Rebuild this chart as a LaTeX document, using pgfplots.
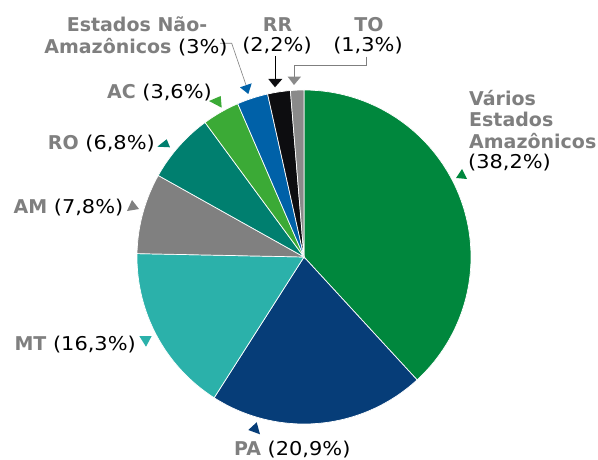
\documentclass[border=0pt]{standalone}
\usepackage{fontspec}
\setmainfont{DejaVu Sans}[FakeStretch=1.1, BoldFeatures={FakeStretch=1.0}]
\usepackage{pgfplots}
\usepackage{pgfplotstable}
\pgfplotsset{compat=1.18}

\definecolor{cVarios}{HTML}{00873D}
\definecolor{cPA}{HTML}{063D78}
\definecolor{cMT}{HTML}{2BB1AA}
\definecolor{cAM}{HTML}{808080}
\definecolor{cRO}{HTML}{007F6F}
\definecolor{cAC}{HTML}{3BAA36}
\definecolor{cENA}{HTML}{0061A8}
\definecolor{cRR}{HTML}{0D0D10}
\definecolor{cTO}{HTML}{8A8A8A}
\definecolor{lg}{HTML}{7F7F7F}

% share of each group, clockwise from the top
\pgfplotstableread{
pct  col
38.2 cVarios
20.9 cPA
16.3 cMT
7.8  cAM
6.8  cRO
3.6  cAC
3.0  cENA
2.2  cRR
1.3  cTO
}\piedata

\newcommand{\nm}[1]{\textcolor{lg}{\textbf{#1}}}

\begin{document}
\begin{tikzpicture}[every node/.style={font=\fontsize{19}{21}\selectfont, inner sep=0pt}]
\begin{axis}[
  width=598pt, height=459pt, scale only axis,
  xmin=0, xmax=598, ymin=0, ymax=459,
  hide axis, clip=false,
]
\coordinate (bl) at (rel axis cs:0,0);
\coordinate (tr) at (rel axis cs:1,1);

\pgfplotstablegetrowsof{\piedata}
\pgfmathtruncatemacro\nrows{\pgfplotsretval-1}
\def\total{0}
\pgfplotsforeachungrouped \i in {0,...,\nrows}{%
  \pgfplotstablegetelem{\i}{pct}\of\piedata
  \pgfmathsetmacro\total{\total+\pgfplotsretval}%
}
\def\cum{0}
\pgfplotsforeachungrouped \i in {0,...,\nrows}{%
  \pgfplotstablegetelem{\i}{pct}\of\piedata \let\p\pgfplotsretval
  \pgfplotstablegetelem{\i}{col}\of\piedata \let\c\pgfplotsretval
  \pgfmathsetmacro\aS{90-(\cum/\total)*360}%
  \pgfmathsetmacro\cum{\cum+\p}%
  \pgfmathsetmacro\aE{90-(\cum/\total)*360}%
  \edef\doslice{\noexpand\addplot[fill=\c, draw=white, line width=0.7pt,
    domain=\aE:\aS, samples=80, variable=\noexpand\t]
    ({304+167*cos(\noexpand\t)},{202+167*sin(\noexpand\t)}) -- (axis cs:304,202) -- cycle;}%
  \doslice
}

% leader lines
\draw[lg, line width=0.6pt] (220,415.7) -- (231.7,415.7) -- (246,374);
\draw[black, line width=0.6pt] (275,403) -- (275,380);
\draw[lg, line width=0.6pt] (366.7,402.3) -- (366.7,393.3) -- (294.5,393.3) -- (294.5,382.3);

% arrow heads
\fill[cVarios] (462,290) -- (456,281) -- (467,280) -- cycle;
\fill[cAC] (209,358) -- (220.7,363) -- (221.7,351.3) -- cycle;
\fill[cRO] (157.3,312.3) -- (166.7,319.7) -- (170,311.7) -- cycle;
\fill[cAM] (127,248) -- (132,259) -- (139,250) -- cycle;
\fill[cMT] (139.3,123) -- (151.7,123) -- (146,112.3) -- cycle;
\fill[cPA] (248.3,29) -- (256.7,36.7) -- (260,24.7) -- cycle;
\fill[cENA] (240,371.7) -- (251.7,375.7) -- (248.3,365) -- cycle;
\fill[cRR] (268.3,380) -- (282.3,380) -- (275,371.7) -- cycle;
\fill[cTO] (287.7,382.3) -- (301,382.3) -- (294,374) -- cycle;

% labels
\node[anchor=base] at (137,427) {\nm{Estados Não-}};
\node[anchor=base] at (136,405.5) {\nm{Amazônicos} (3\%)};
\node[anchor=base] at (277.5,427) {\nm{RR}};
\node[anchor=base] at (277,407) {(2,2\%)};
\node[anchor=base] at (369,427) {\nm{TO}};
\node[anchor=base] at (368,407) {(1,3\%)};
\node[anchor=base east] at (212,360) {\nm{AC} (3,6\%)};
\node[anchor=base east] at (155,309) {\nm{RO} (6,8\%)};
\node[anchor=base east] at (123.5,246) {\nm{AM} (7,8\%)};
\node[anchor=base east] at (136,109) {\nm{MT} (16,3\%)};
\node[anchor=base west] at (234,4) {\nm{PA} (20,9\%)};
\node[anchor=base west] at (469,353) {\nm{Vários}};
\node[anchor=base west] at (469,332) {\nm{Estados}};
\node[anchor=base west] at (469,310.7) {\nm{Amazônicos}};
\node[anchor=base west] at (468,290.7) {(38,2\%)};
\end{axis}
\pgfresetboundingbox
\path (bl) rectangle (tr);
\end{tikzpicture}
\end{document}
